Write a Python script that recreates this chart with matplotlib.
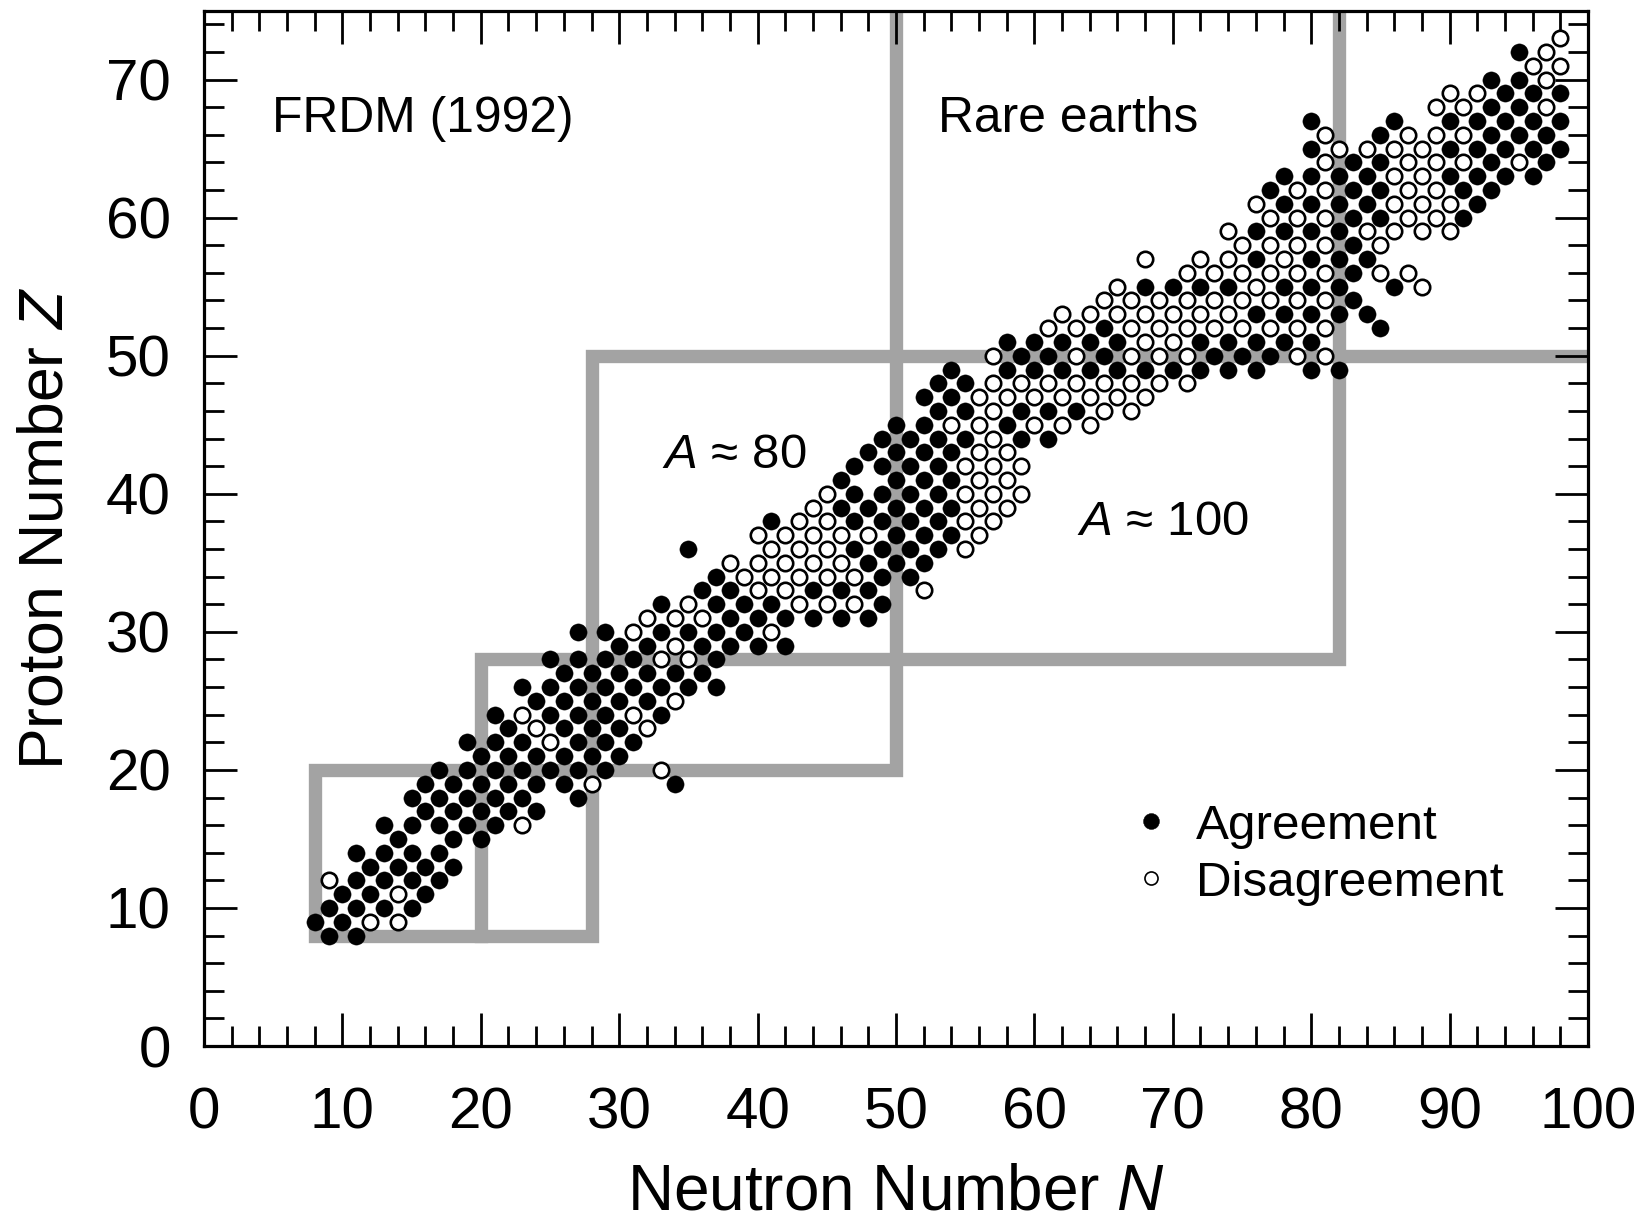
import matplotlib
matplotlib.use('Agg')
import matplotlib.pyplot as plt
from matplotlib.lines import Line2D
from matplotlib.ticker import MultipleLocator

plt.rcParams['font.family'] = ['Liberation Sans', 'DejaVu Sans']
plt.rcParams['mathtext.fontset'] = 'custom'
plt.rcParams['mathtext.rm'] = 'Liberation Sans'
plt.rcParams['mathtext.it'] = 'Liberation Sans:italic'

# (N, Z) of odd-A nuclei where FRDM ground-state spin agrees with experiment
agreement = [
    (9, 8), (11, 8),
    (8, 9), (10, 9),
    (9, 10), (11, 10), (13, 10), (15, 10),
    (10, 11), (12, 11), (16, 11),
    (11, 12), (13, 12), (15, 12), (17, 12),
    (12, 13), (14, 13), (16, 13), (18, 13),
    (11, 14), (13, 14), (15, 14), (17, 14),
    (14, 15), (18, 15), (20, 15),
    (13, 16), (15, 16), (17, 16), (19, 16), (21, 16),
    (16, 17), (18, 17), (20, 17), (22, 17), (24, 17),
    (15, 18), (17, 18), (19, 18), (21, 18), (23, 18), (27, 18),
    (16, 19), (18, 19), (20, 19), (22, 19), (24, 19), (26, 19), (34, 19),
    (17, 20), (19, 20), (21, 20), (23, 20), (25, 20), (27, 20), (29, 20),
    (20, 21), (22, 21), (24, 21), (26, 21), (28, 21), (30, 21),
    (19, 22), (21, 22), (23, 22), (27, 22), (29, 22), (31, 22),
    (22, 23), (26, 23), (28, 23), (30, 23),
    (21, 24), (25, 24), (27, 24), (29, 24), (33, 24),
    (24, 25), (26, 25), (28, 25), (30, 25), (32, 25),
    (23, 26), (25, 26), (27, 26), (29, 26), (31, 26), (33, 26), (35, 26), (37, 26),
    (26, 27), (28, 27), (30, 27), (32, 27), (34, 27), (36, 27),
    (25, 28), (27, 28), (29, 28), (31, 28), (37, 28),
    (30, 29), (32, 29), (36, 29), (38, 29), (40, 29), (42, 29),
    (27, 30), (29, 30), (33, 30), (35, 30), (37, 30), (39, 30),
    (38, 31), (40, 31), (42, 31), (44, 31), (46, 31), (48, 31),
    (33, 32), (37, 32), (39, 32), (41, 32), (49, 32),
    (36, 33), (38, 33), (44, 33), (46, 33), (48, 33),
    (37, 34), (49, 34), (51, 34),
    (48, 35), (50, 35), (52, 35),
    (35, 36), (47, 36), (49, 36), (51, 36), (53, 36),
    (50, 37), (52, 37), (54, 37),
    (41, 38), (47, 38), (49, 38), (51, 38), (53, 38),
    (46, 39), (48, 39), (50, 39), (52, 39), (54, 39),
    (47, 40), (49, 40), (51, 40), (53, 40),
    (46, 41), (50, 41), (52, 41), (54, 41),
    (47, 42), (49, 42), (51, 42), (53, 42),
    (48, 43), (50, 43), (52, 43), (54, 43),
    (49, 44), (51, 44), (53, 44), (55, 44), (59, 44), (61, 44),
    (50, 45), (52, 45), (58, 45),
    (53, 46), (55, 46), (59, 46), (61, 46), (63, 46),
    (52, 47), (54, 47),
    (53, 48), (55, 48),
    (54, 49), (58, 49), (60, 49), (62, 49), (64, 49), (66, 49), (68, 49),
    (70, 49), (72, 49), (74, 49), (76, 49), (80, 49), (82, 49),
    (59, 50), (61, 50), (65, 50), (73, 50), (75, 50), (77, 50),
    (58, 51), (60, 51), (62, 51), (64, 51), (66, 51), (72, 51), (74, 51),
    (76, 51), (78, 51), (80, 51),
    (65, 52), (85, 52),
    (76, 53), (78, 53), (80, 53), (82, 53), (84, 53),
    (83, 54),
    (68, 55), (70, 55), (72, 55), (74, 55), (78, 55), (80, 55), (82, 55), (86, 55),
    (83, 56),
    (76, 57), (80, 57), (82, 57), (84, 57),
    (83, 58),
    (76, 59), (78, 59), (80, 59), (82, 59),
    (83, 60), (85, 60), (91, 60),
    (78, 61), (80, 61), (82, 61), (84, 61), (92, 61),
    (77, 62), (83, 62), (85, 62), (91, 62), (93, 62),
    (78, 63), (80, 63), (82, 63), (84, 63), (90, 63), (92, 63), (94, 63), (96, 63),
    (83, 64), (85, 64), (93, 64), (97, 64),
    (80, 65), (90, 65), (92, 65), (94, 65), (96, 65), (98, 65),
    (85, 66), (93, 66), (95, 66), (97, 66),
    (80, 67), (86, 67), (90, 67), (92, 67), (94, 67), (96, 67), (98, 67),
    (93, 68), (95, 68),
    (94, 69), (96, 69), (98, 69),
    (93, 70), (95, 70),
    (95, 72),
]

# (N, Z) where the calculated spin disagrees
disagreement = [
    (12, 9), (14, 9),
    (14, 11),
    (9, 12),
    (23, 16),
    (28, 19),
    (33, 20),
    (25, 22),
    (24, 23), (32, 23),
    (23, 24), (31, 24),
    (34, 25),
    (33, 28), (35, 28),
    (34, 29),
    (31, 30), (41, 30),
    (32, 31), (34, 31), (36, 31),
    (35, 32), (43, 32), (45, 32), (47, 32),
    (40, 33), (42, 33), (52, 33),
    (39, 34), (41, 34), (43, 34), (45, 34), (47, 34),
    (38, 35), (40, 35), (42, 35), (44, 35), (46, 35),
    (41, 36), (43, 36), (45, 36), (55, 36),
    (40, 37), (42, 37), (44, 37), (46, 37), (48, 37), (56, 37),
    (43, 38), (45, 38), (55, 38), (57, 38),
    (44, 39), (56, 39), (58, 39),
    (45, 40), (55, 40), (57, 40), (59, 40),
    (56, 41), (58, 41),
    (55, 42), (57, 42), (59, 42),
    (56, 43), (58, 43),
    (57, 44),
    (54, 45), (56, 45), (60, 45), (62, 45), (64, 45),
    (57, 46), (65, 46), (67, 46),
    (56, 47), (58, 47), (60, 47), (62, 47), (64, 47), (66, 47), (68, 47),
    (57, 48), (59, 48), (61, 48), (63, 48), (65, 48), (67, 48), (69, 48), (71, 48),
    (57, 50), (63, 50), (67, 50), (69, 50), (71, 50), (79, 50), (81, 50),
    (68, 51), (70, 51),
    (61, 52), (63, 52), (67, 52), (69, 52), (71, 52), (73, 52), (75, 52),
    (77, 52), (79, 52), (81, 52),
    (62, 53), (64, 53), (66, 53), (68, 53), (70, 53), (72, 53), (74, 53),
    (65, 54), (67, 54), (69, 54), (71, 54), (73, 54), (75, 54), (77, 54),
    (79, 54), (81, 54),
    (66, 55), (76, 55), (88, 55),
    (71, 56), (73, 56), (75, 56), (77, 56), (79, 56), (81, 56), (85, 56), (87, 56),
    (68, 57), (72, 57), (74, 57), (78, 57),
    (75, 58), (77, 58), (79, 58), (81, 58), (85, 58),
    (74, 59), (84, 59), (86, 59), (88, 59), (90, 59),
    (77, 60), (79, 60), (81, 60), (87, 60), (89, 60),
    (76, 61), (86, 61), (88, 61), (90, 61),
    (79, 62), (81, 62), (87, 62), (89, 62),
    (86, 63), (88, 63),
    (81, 64), (87, 64), (89, 64), (91, 64), (95, 64),
    (82, 65), (84, 65), (86, 65), (88, 65),
    (81, 66), (87, 66), (89, 66), (91, 66),
    (89, 68), (91, 68), (97, 68),
    (90, 69), (92, 69),
    (97, 70),
    (96, 71), (98, 71),
    (97, 72),
    (98, 73),
]

# grey region boundaries (magic-number boxes)
outer_box_n = [50, 50, 8, 8, 28, 28, 100]
outer_box_z = [75, 20, 20, 8, 8, 50, 50]
inner_box_n = [20, 20, 82, 82]
inner_box_z = [8, 28, 28, 75]

grey = '#a3a3a3'

fig = plt.figure(figsize=(16.49, 12.25), dpi=100)
ax = fig.add_axes([0.1237, 0.1461, 0.8393, 0.8453])

for bn, bz in [(outer_box_n, outer_box_z), (inner_box_n, inner_box_z)]:
    ax.plot(bn, bz, color=grey, lw=9.6, solid_joinstyle='miter',
            solid_capstyle='projecting', zorder=1)

agree_n, agree_z = zip(*agreement)
dis_n, dis_z = zip(*disagreement)
ax.plot(agree_n, agree_z, 'o', ls='none', ms=12.4, mfc='black', mec='black',
        mew=0.3, zorder=3)
ax.plot(dis_n, dis_z, 'o', ls='none', ms=11.1, mfc='white', mec='black',
        mew=1.9, zorder=3)

ax.set_xlim(0, 100)
ax.set_ylim(0, 75)
ax.xaxis.set_major_locator(MultipleLocator(10))
ax.xaxis.set_minor_locator(MultipleLocator(2))
ax.yaxis.set_major_locator(MultipleLocator(10))
ax.yaxis.set_minor_locator(MultipleLocator(2))
ax.set_yticks(range(0, 71, 10))
ax.tick_params(which='both', direction='in', top=True, right=True, width=2.0)
ax.tick_params(which='major', length=24, labelsize=42)
ax.tick_params(axis='x', which='major', pad=29)
ax.tick_params(axis='y', which='major', pad=24)
ax.tick_params(which='minor', length=14.5)
for s in ax.spines.values():
    s.set_linewidth(2.3)

ax.set_xlabel('Neutron Number $N$', fontsize=46, labelpad=16)
ax.set_ylabel('Proton Number $Z$', fontsize=45, labelpad=22)

ax.text(4.9, 66.2, 'FRDM (1992)', fontsize=35.8, ha='left', va='baseline')
ax.text(53.0, 66.2, 'Rare earths', fontsize=35.8, ha='left', va='baseline')
ax.text(33.1, 41.9, '$A$ \u2248 80', fontsize=35.5, ha='left', va='baseline')
ax.text(63.1, 37.0, '$A$ \u2248 100', fontsize=35.5, ha='left', va='baseline')

handles = [
    Line2D([], [], marker='o', ls='none', ms=11.5, mfc='black', mec='black', mew=0.3),
    Line2D([], [], marker='o', ls='none', ms=9.4, mfc='white', mec='black', mew=1.2),
]
ax.legend(handles, ['Agreement', 'Disagreement'], loc='upper left',
          bbox_to_anchor=(0.670, 0.234), frameon=False, fontsize=35.6,
          handlelength=0.8, handletextpad=0.5, labelspacing=0.24,
          borderpad=0, borderaxespad=0)

fig.savefig('out.png', dpi=100)
